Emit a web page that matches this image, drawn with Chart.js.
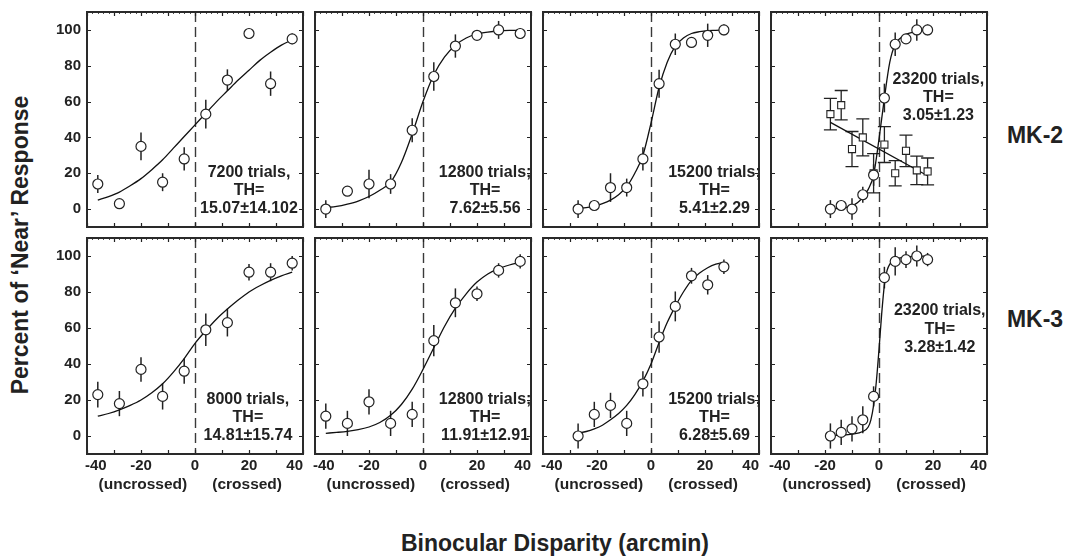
<!DOCTYPE html>
<html><head><meta charset="utf-8">
<script src="https://cdn.jsdelivr.net/npm/chart.js@4.4.0/dist/chart.umd.min.js"></script>
<style>
html,body{margin:0;padding:0;background:#fff}
body{width:1067px;height:557px;overflow:hidden;position:relative;font-family:"Liberation Sans",Arial,sans-serif;color:#222}
canvas{position:absolute}
.lbl{position:absolute;font-weight:bold;white-space:nowrap;transform:translate(-50%,-50%);line-height:1}
</style></head><body>
<div class="lbl" id="ytitle" style="left:20px;top:245px;font-size:23px;transform:translate(-50%,-50%) rotate(-90deg)">Percent of ‘Near’ Response</div>
<div class="lbl" style="left:555px;top:543px;font-size:23px">Binocular Disparity (arcmin)</div>
<div class="lbl" style="left:1035px;top:135px;font-size:23px">MK-2</div>
<div class="lbl" style="left:1035px;top:319px;font-size:23px">MK-3</div>
<script>
// ---------- data ----------
const xTickLabels = [-40, -20, 0, 20, 40];
const yTickLabels = [0, 20, 40, 60, 80, 100];
const sideLabels = ['(uncrossed)', '(crossed)'];

// MK-2 row
const p1X = [-36, -28, -20, -12, -4, 4, 12, 20, 28, 36];
const p1Y = [14, 3, 35, 15, 28, 53, 72, 98, 70, 95];
const p1E = [5, 0, 7.7, 5, 6.5, 8, 6, 0, 6.8, 3];
const p1FitX = [-36, -32, -28, -24, -20, -16, -12, -8, -4, 0, 4, 8, 12, 16, 20, 24, 28, 32, 36];
const p1FitY = [5, 7, 9.5, 13, 17, 22, 27.5, 34, 40.5, 47, 53.5, 60, 66, 72, 77.5, 83, 87.5, 91.5, 94.5];
const p1Text = ['7200 trials,', 'TH=', '15.07±14.102'];

const p2X = [-36, -28, -20, -12, -4, 4, 12, 20, 28, 36];
const p2Y = [0, 10, 14, 14, 44, 74, 91, 97, 100, 98];
const p2E = [5, 0, 8, 5.5, 6.7, 8, 6.5, 0, 5, 3];
const p2FitX = [-36, -32, -28, -24, -20, -16, -12, -8, -4, 0, 4, 8, 12, 16, 20, 24, 28, 32, 36];
const p2FitY = [0.8, 1.5, 2.8, 4.5, 7, 10.5, 15, 26, 42, 60, 75, 85, 91.5, 95.5, 97.8, 98.8, 99.4, 99.7, 99.8];
const p2Text = ['12800 trials;', 'TH=', '7.62±5.56'];

const p3X = [-27, -21, -15, -9, -3, 3, 9, 15, 21, 27];
const p3Y = [0, 2, 12, 12, 28, 70, 92, 93, 97, 100];
const p3E = [5, 2, 8, 5, 6.5, 7.8, 6, 0, 6.5, 3];
const p3FitX = [-27, -24, -21, -18, -15, -12, -9, -6, -3, 0, 3, 6, 9, 12, 15, 18, 21, 24, 27];
const p3FitY = [0.3, 0.8, 1.6, 3, 5, 8, 12.5, 20, 30, 48, 68, 82, 91, 95.5, 98, 99, 99.6, 99.8, 100];
const p3Text = ['15200 trials;', 'TH=', '5.41±2.29'];

const p4X = [-18, -14, -10, -6, -2, 2, 6, 10, 14, 18];
const p4Y = [0, 2, 0, 8, 19, 62, 92, 95, 100, 100];
const p4E = [5, 2, 6, 4.5, 6, 8, 6.5, 0, 6, 3];
const p4FitX = [-18, -16, -14, -12, -10, -8, -6, -4, -2, 0, 2, 4, 6, 8, 10, 12, 14, 16, 18];
const p4FitY = [0, 0.3, 0.6, 1, 1.8, 3.5, 6.5, 11, 19, 39, 62, 82, 92, 95.5, 97.5, 98.5, 99.2, 99.6, 99.8];
const p4SqY = [53, 58, 33.5, 40, 20, 36, 20, 32.5, 21.6, 21];
const p4SqE = [8.8, 8.2, 9.8, 10.3, 11, 10, 7, 8.8, 8, 7.5];
const p4LineX = [-18, 18];
const p4LineY = [48.4, 18.6];
const p4Text = ['23200 trials,', 'TH=', '3.05±1.23'];

// MK-3 row
const p5X = [-36, -28, -20, -12, -4, 4, 12, 20, 28, 36];
const p5Y = [23, 18, 37, 22, 36, 59, 63, 91, 91, 96];
const p5E = [7.2, 7, 6.8, 7.3, 7, 9, 7.7, 4.6, 5, 4];
const p5FitX = [-36, -32, -28, -24, -20, -16, -12, -8, -4, 0, 4, 8, 12, 16, 20, 24, 28, 32, 36];
const p5FitY = [11, 12.5, 14.5, 17, 20, 24, 29, 35.5, 43, 51.5, 58.5, 65, 70.5, 75.5, 80, 83.5, 86.5, 89, 91];
const p5Text = ['8000 trials,', 'TH=', '14.81±15.74'];

const p6X = [-36, -28, -20, -12, -4, 4, 12, 20, 28, 36];
const p6Y = [11, 7, 19, 7, 12, 53, 74, 79, 92, 97];
const p6E = [7, 7, 7, 7, 7, 8.7, 8, 4, 4, 4];
const p6FitX = [-36, -32, -28, -24, -20, -16, -12, -8, -4, 0, 4, 8, 12, 16, 20, 24, 28, 32, 36];
const p6FitY = [1.5, 2, 2.6, 3.5, 5, 7.5, 11.5, 17.5, 26, 37, 49, 61, 71, 79, 85.5, 90, 93, 95, 96.5];
const p6Text = ['12800 trials;', 'TH=', '11.91±12.91'];

const p7X = [-27, -21, -15, -9, -3, 3, 9, 15, 21, 27];
const p7Y = [0, 12, 17, 7, 29, 55, 72, 89, 84, 94];
const p7E = [7, 7, 7, 7, 7, 8.8, 8.3, 4.4, 5.4, 4];
const p7FitX = [-27, -24, -21, -18, -15, -12, -9, -6, -3, 0, 3, 6, 9, 12, 15, 18, 21, 24, 27];
const p7FitY = [1.5, 2.5, 4, 6, 9, 12.5, 17, 23, 30.5, 40, 52, 63, 72, 80, 86.5, 90.5, 93.5, 95.5, 96.5];
const p7Text = ['15200 trials;', 'TH=', '6.28±5.69'];

const p8X = [-18, -14, -10, -6, -2, 2, 6, 10, 14, 18];
const p8Y = [0, 2, 4, 9, 22, 88, 97, 98, 100, 98];
const p8E = [7, 7, 7, 7.5, 5.6, 6, 7.8, 4.6, 5.8, 3.7];
const p8FitX = [-18, -14, -10, -6, -4, -3, -2, -1, 0, 1, 2, 3, 4, 6, 10, 14, 18];
const p8FitY = [0.3, 0.5, 1, 2.5, 5, 9, 17, 30, 48, 68, 84, 92, 95.5, 98, 99.5, 99.8, 100];
const p8Text = ['23200 trials,', 'TH=', '3.28±1.42'];

// ---------- layout (pixels) ----------
const colL = [87, 315, 543, 771];
const panelW = 216;
const rowT = [12, 238];
const rowB = [227, 454];

const panels = [
  {c:0, r:0, X:p1X, Y:p1Y, E:p1E, fx:p1FitX, fy:p1FitY, text:p1Text, tx:20, ty:[20.5, 10.2, 0]},
  {c:1, r:0, X:p2X, Y:p2Y, E:p2E, fx:p2FitX, fy:p2FitY, text:p2Text, tx:23, ty:[20.5, 10.2, 0]},
  {c:2, r:0, X:p3X, Y:p3Y, E:p3E, fx:p3FitX, fy:p3FitY, text:p3Text, tx:23.5, ty:[20.5, 10.2, 0]},
  {c:3, r:0, X:p4X, Y:p4Y, E:p4E, fx:p4FitX, fy:p4FitY, text:p4Text, tx:22, ty:[72.5, 62, 52],
    sqY:p4SqY, sqE:p4SqE, lx:p4LineX, ly:p4LineY},
  {c:0, r:1, X:p5X, Y:p5Y, E:p5E, fx:p5FitX, fy:p5FitY, text:p5Text, tx:19.6, ty:[20.5, 10.2, 0]},
  {c:1, r:1, X:p6X, Y:p6Y, E:p6E, fx:p6FitX, fy:p6FitY, text:p6Text, tx:23, ty:[20.5, 10.2, 0]},
  {c:2, r:1, X:p7X, Y:p7Y, E:p7E, fx:p7FitX, fy:p7FitY, text:p7Text, tx:23.5, ty:[20.5, 10.2, 0]},
  {c:3, r:1, X:p8X, Y:p8Y, E:p8E, fx:p8FitX, fy:p8FitY, text:p8Text, tx:22.5, ty:[69.4, 59.2, 49]},
];

const INK = '#222';
const FONT = '"Liberation Sans", Arial, sans-serif';

const panelPlugin = {
  id: 'panelDeco',
  beforeDatasetsDraw(chart) {
    const P = chart.options.plugins.panelDeco.p;
    const {ctx, chartArea: a} = chart;
    const xs = chart.scales.x, ys = chart.scales.y;
    ctx.save();
    // dashed zero line
    const x0 = Math.round(xs.getPixelForValue(0)) + 0.5;
    ctx.strokeStyle = '#3a3a3a';
    ctx.lineWidth = 1.4;
    ctx.setLineDash([10, 5]);
    ctx.beginPath(); ctx.moveTo(x0, a.top); ctx.lineTo(x0, a.bottom); ctx.stroke();
    ctx.setLineDash([]);
    // error bars
    ctx.strokeStyle = INK;
    ctx.lineWidth = 1.5;
    const bars = (X, Y, E, cap) => {
      X.forEach((xv, i) => {
        if (!E[i]) return;
        const px = xs.getPixelForValue(xv);
        const y1 = ys.getPixelForValue(Y[i] - E[i]);
        const y2 = ys.getPixelForValue(Y[i] + E[i]);
        ctx.beginPath(); ctx.moveTo(px, y1); ctx.lineTo(px, y2);
        if (cap) {
          ctx.moveTo(px - cap, y1); ctx.lineTo(px + cap, y1);
          ctx.moveTo(px - cap, y2); ctx.lineTo(px + cap, y2);
        }
        ctx.stroke();
      });
    };
    if (P.sqY) { ctx.lineWidth = 1.3; bars(P.X, P.sqY, P.sqE, 6.5); ctx.lineWidth = 1.5; }
    bars(P.X, P.Y, P.E, 0);
    ctx.restore();
  },
  afterDatasetsDraw(chart) {
    const P = chart.options.plugins.panelDeco.p;
    const {ctx, chartArea: a} = chart;
    const xs = chart.scales.x, ys = chart.scales.y;
    ctx.save();
    ctx.strokeStyle = INK;
    // ticks
    ctx.lineWidth = 1.2;
    ctx.beginPath();
    for (let v = -40; v <= 40; v += 10) {
      const px = Math.round(xs.getPixelForValue(v)) + 0.5;
      ctx.moveTo(px, a.bottom); ctx.lineTo(px, a.bottom - 4);
      ctx.moveTo(px, a.top); ctx.lineTo(px, a.top + 4);
    }
    for (let v = 0; v <= 100; v += 20) {
      const py = Math.round(ys.getPixelForValue(v)) + 0.5;
      ctx.moveTo(a.left, py); ctx.lineTo(a.left + 4, py);
      ctx.moveTo(a.right, py); ctx.lineTo(a.right - 4, py);
    }
    ctx.stroke();
    ctx.lineWidth = 0.8;
    ctx.beginPath();
    for (let v = -40; v <= 40; v += 2) {
      const px = Math.round(xs.getPixelForValue(v)) + 0.5;
      ctx.moveTo(px, a.top); ctx.lineTo(px, a.top + 2);
    }
    ctx.stroke();
    // box
    ctx.lineWidth = 2;
    ctx.strokeStyle = '#2a2a2a';
    ctx.strokeRect(a.left, a.top, a.right - a.left, a.bottom - a.top);
    // tick labels
    ctx.fillStyle = INK;
    ctx.font = 'bold 15px ' + FONT;
    if (P.c === 0) {
      ctx.textAlign = 'right'; ctx.textBaseline = 'middle';
      yTickLabels.forEach(v => ctx.fillText(String(v), a.left - 6, ys.getPixelForValue(v)));
    }
    if (P.r === 1) {
      ctx.textBaseline = 'middle';
      xTickLabels.forEach((v, i) => {
        const px = xs.getPixelForValue(v);
        if (i === 0) { ctx.textAlign = 'left'; ctx.fillText(String(v), px - 2, a.bottom + 12); }
        else if (i === xTickLabels.length - 1) { ctx.textAlign = 'right'; ctx.fillText(String(v), px, a.bottom + 12); }
        else { ctx.textAlign = 'center'; ctx.fillText(String(v), px, a.bottom + 12); }
      });
      ctx.textAlign = 'center';
      ctx.font = 'bold 15.5px ' + FONT;
      ctx.fillText(sideLabels[0], xs.getPixelForValue(-19.3), a.bottom + 31);
      ctx.fillText(sideLabels[1], xs.getPixelForValue(19.3), a.bottom + 31);
    }
    // annotation
    ctx.font = 'bold 16px ' + FONT;
    ctx.textAlign = 'center'; ctx.textBaseline = 'middle';
    P.text.forEach((t, i) => ctx.fillText(t, xs.getPixelForValue(P.tx), ys.getPixelForValue(P.ty[i])));
    ctx.restore();
  }
};

panels.forEach(P => {
  const L = colL[P.c], T = rowT[P.r], B = rowB[P.r];
  const padL = P.c === 0 ? 87 : 12, padR = 14, padT = 10, padB = P.r === 1 ? 45 : 12;
  const cv = document.createElement('canvas');
  const W = panelW + padL + padR, H = (B - T) + padT + padB;
  cv.width = W; cv.height = H;
  cv.style.left = (L - padL) + 'px'; cv.style.top = (T - padT) + 'px';
  cv.style.width = W + 'px'; cv.style.height = H + 'px';
  document.body.appendChild(cv);

  const marker = {
    type: 'scatter',
    data: P.X.map((x, i) => ({x, y: P.Y[i]})),
    pointStyle: 'circle', pointRadius: 5, pointBorderWidth: 1.2,
    pointBackgroundColor: '#fff', pointBorderColor: INK, showLine: false
  };
  const fit = {
    type: 'line',
    data: P.fx.map((x, i) => ({x, y: P.fy[i]})),
    borderColor: '#111', borderWidth: 1.3, pointRadius: 0,
    cubicInterpolationMode: 'monotone', fill: false
  };
  const datasets = [marker];
  if (P.sqY) {
    datasets.push({
      type: 'scatter',
      data: P.X.map((x, i) => ({x, y: P.sqY[i]})),
      pointStyle: 'rect', pointRadius: 5, pointBorderWidth: 1.1,
      pointBackgroundColor: '#fff', pointBorderColor: INK, showLine: false
    });
  }
  datasets.push(fit);
  if (P.lx) {
    datasets.push({
      type: 'line',
      data: P.lx.map((x, i) => ({x, y: P.ly[i]})),
      borderColor: '#111', borderWidth: 1.3, pointRadius: 0, tension: 0, fill: false
    });
  }

  new Chart(cv, {
    type: 'scatter',
    data: {datasets},
    options: {
      responsive: false, animation: false, events: [],
      devicePixelRatio: 1,
      layout: {padding: {left: padL, right: padR, top: padT, bottom: padB}},
      scales: {
        x: {type: 'linear', min: -40, max: 40, display: false},
        y: {type: 'linear', min: -10, max: 110, display: false}
      },
      plugins: {legend: {display: false}, tooltip: {enabled: false}, panelDeco: {p: P}}
    },
    plugins: [panelPlugin]
  });
});
</script>
</body></html>
